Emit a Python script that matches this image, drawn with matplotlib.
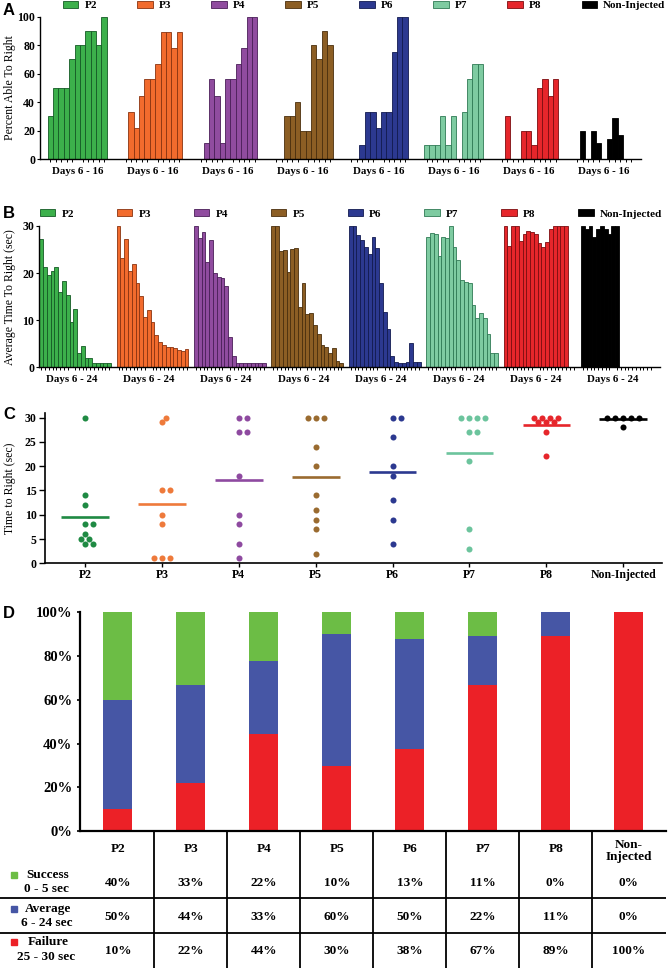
import matplotlib
matplotlib.use('Agg')
import matplotlib.pyplot as plt
import numpy as np

plt.rcParams['font.family'] = ['Liberation Serif', 'DejaVu Serif']
plt.rcParams['font.weight'] = 'bold'
plt.rcParams['axes.linewidth'] = 1.0

groups = ['P2', 'P3', 'P4', 'P5', 'P6', 'P7', 'P8', 'Non-Injected']
bar_colors = ['#3cb04b', '#f26b2d', '#904c9f', '#8c5e24', '#2c3990', '#7ecba1', '#e6262b', '#000000']
edge_colors = ['#145a25', '#8a3310', '#4a1f58', '#4a2f0d', '#121a50', '#2f7a55', '#7c0d10', '#000000']
dot_colors = ['#1f8a43', '#ee7a3b', '#8e4aa0', '#9a6b30', '#2c3990', '#6cc49d', '#e6262b', '#000000']

# A: percent able to right, days 6 - 16
pct_able = [
    [30, 50, 50, 50, 70, 80, 80, 90, 90, 80, 100],
    [0, 33, 22, 44, 56, 56, 67, 89, 89, 78, 89],
    [0, 11, 56, 44, 11, 56, 56, 67, 78, 100, 100],
    [0, 0, 30, 30, 40, 20, 20, 80, 70, 90, 80],
    [0, 0, 10, 33, 33, 22, 33, 33, 75, 100, 100],
    [10, 10, 10, 30, 10, 30, 0, 33, 56, 67, 67],
    [0, 30, 0, 0, 20, 20, 10, 50, 56, 44, 56],
    [0, 20, 0, 20, 11, 0, 14, 29, 17, 0, 0],
]
days_a = 'Days 6 - 16'

# B: average time to right (sec), days 6 - 24
avg_time = [
    [27.2, 21.3, 19.5, 20.5, 21.3, 16.0, 18.3, 15.3, 9.6, 12.3, 3.0, 4.5, 2.0, 2.0, 1.0, 1.0, 1.0, 1.0, 1.0],
    [30, 23.2, 27.2, 20.4, 22.0, 18.0, 15.2, 10.7, 12.2, 9.6, 6.8, 5.4, 4.7, 4.3, 4.3, 4.0, 3.7, 3.5, 3.8],
    [30, 27.4, 28.8, 22.3, 27.0, 20.0, 19.2, 19.0, 17.2, 6.4, 2.3, 1, 1, 1, 1, 1, 1, 1, 1],
    [30, 30, 24.6, 24.9, 20.2, 25.1, 25.3, 12.7, 17.8, 11.3, 11.6, 9.0, 7.1, 4.7, 4.3, 3.1, 4.2, 1.4, 1.0],
    [30, 30, 28.1, 27.0, 25.6, 24.1, 27.6, 25.3, 18.0, 11.8, 8.1, 2.3, 1.2, 1.0, 1.0, 1.2, 5.1, 1.1, 1.1],
    [27.7, 28.6, 28.4, 23.6, 27.6, 27.4, 30, 25.6, 22.8, 18.5, 18.2, 17.8, 13.2, 10.4, 11.6, 10.4, 7.0, 3.0, 3.0],
    [30, 25.8, 30, 30, 26.9, 28.2, 28.9, 28.8, 28.2, 26.3, 25.5, 26.5, 29.3, 30, 30, 30, 30, 0, 0],
    [30, 29.3, 30, 27.6, 29.3, 30, 29.3, 28.3, 30, 30, 0, 0, 0, 0, 0, 0, 0, 0, 0],
]
days_b = 'Days 6 - 24'

# C: time to right (sec), one value per animal
time_to_right = [
    [30, 14, 12, 8, 8, 6, 5, 5, 4, 4],
    [30, 29, 15, 15, 10, 8, 1, 1, 1],
    [30, 30, 27, 27, 18, 10, 8, 4, 1],
    [30, 30, 30, 24, 20, 14, 11, 9, 7, 2],
    [30, 30, 26, 20, 18, 13, 9, 4],
    [30, 30, 30, 30, 27, 27, 21, 7, 3],
    [30, 30, 30, 30, 29, 29, 29, 27, 22],
    [30, 30, 30, 30, 30, 28],
]

# D: outcome categories
outcome_names = ['Success', 'Average', 'Failure']
outcome_ranges = ['0 - 5 sec', '6 - 24 sec', '25 - 30 sec']
outcome_colors = ['#6cbd45', '#4656a5', '#ec2127']

W, H = 668, 968
fig = plt.figure(figsize=(W / 100, H / 100), dpi=100)


def add_ax(left, top, right, bottom):
    return fig.add_axes([left / W, 1 - bottom / H, (right - left) / W, (bottom - top) / H])


def day_bars(ax, data, pitch, label_slot, day_label, ylabel, lab_x, leg_anchor, leg_sep):
    n = len(data[0])
    for g, vals in enumerate(data):
        vals = np.array(vals, dtype=float)
        x = g * pitch + np.arange(n)
        keep = vals > 0
        ax.bar(x[keep], vals[keep], width=1.0, color=bar_colors[g],
               edgecolor=edge_colors[g], linewidth=0.6, label=groups[g])
    ax.set_xticks([g * pitch + label_slot for g in range(len(data))])
    ax.set_xticklabels([day_label] * len(data), fontsize=7.8)
    ax.set_xticks(np.concatenate([g * pitch + np.arange(n) for g in range(len(data))]), minor=True)
    ax.tick_params(axis='x', which='major', length=0, pad=5.5)
    ax.tick_params(axis='x', which='minor', length=2.5, width=0.7)
    ax.tick_params(axis='y', length=2.5, width=0.8, pad=1, labelsize=8.5)
    for s in ['top', 'right']:
        ax.spines[s].set_visible(False)
    ax.set_ylabel(ylabel, fontsize=8.5)
    ax.yaxis.set_label_coords(lab_x, 0.5)
    ax.legend(ncol=8, loc='center left', bbox_to_anchor=leg_anchor, frameon=False,
              fontsize=8, borderpad=0, borderaxespad=0, handlelength=1.4,
              handleheight=0.6, handletextpad=0.55, columnspacing=leg_sep)


# Panel A
axA = add_ax(40, 16.7, 641, 159)
day_bars(axA, pct_able, 14, 5, days_a, 'Percent Able To Right', -0.040, (0.038, 1.079), 3.6)
axA.set_xlim(-1.93, 109.87)
axA.set_ylim(0, 100)
axA.set_yticks(np.arange(0, 101, 20))

# Panel B
axB = add_ax(39.3, 226, 660, 367.3)
day_bars(axB, avg_time, 20.5, 8, days_b, 'Average Time To Right (sec)', -0.0375, (0.001, 1.085), 3.85)
axB.set_xlim(-0.5, 163.9)
axB.set_ylim(0, 30)
axB.set_yticks([0, 10, 20, 30])


# Panel C
def swarm(vals, xpx=76.9, ypx=4.867, step=4.0, dmin=6.0):
    placed = []
    offs = np.zeros(len(vals))
    cands = [0.0]
    for j in range(1, 30):
        cands += [j * step, -j * step]
    for i in np.argsort(vals, kind='stable'):
        y = vals[i] * ypx
        for c in cands:
            if all((c - px) ** 2 + (y - py) ** 2 >= dmin ** 2 for px, py in placed):
                break
        placed.append((c, y))
        offs[i] = c / xpx
    return offs


axC = add_ax(45, 412.7, 661.7, 563.3)
for g, vals in enumerate(time_to_right):
    vals = np.array(vals, dtype=float)
    axC.scatter(g + swarm(vals), vals, s=19, color=dot_colors[g], linewidths=0, zorder=3)
    axC.hlines(vals.mean(), g - 0.31, g + 0.31, color=dot_colors[g], lw=1.9, zorder=2)
axC.set_xlim(-0.52, 7.5)
axC.set_ylim(0, 31)
axC.set_yticks(np.arange(0, 31, 5))
axC.set_xticks(range(len(groups)))
axC.set_xticklabels(groups, fontsize=8.5)
axC.tick_params(axis='x', length=3, width=1, pad=1)
axC.tick_params(axis='y', length=4, width=1, pad=2, labelsize=8.5)
for s in ['top', 'right']:
    axC.spines[s].set_visible(False)
axC.spines['left'].set_linewidth(1.2)
axC.spines['bottom'].set_linewidth(1.2)
axC.set_ylabel('Time to Right (sec)', fontsize=8.5)
axC.yaxis.set_label_coords(-0.047, 0.5)

# Panel D
success = np.array([np.mean(np.array(v) <= 5) * 100 for v in time_to_right])
failure = np.array([np.mean(np.array(v) >= 25) * 100 for v in time_to_right])
average = 100 - success - failure
x = np.arange(len(groups))

axD = add_ax(80, 612, 666, 831.3)
axD.bar(x, failure, width=0.4, color=outcome_colors[2])
axD.bar(x, average, width=0.4, bottom=failure, color=outcome_colors[1])
axD.bar(x, success, width=0.4, bottom=failure + average, color=outcome_colors[0])
axD.set_xlim(-0.518, 7.51)
axD.set_ylim(0, 100)
axD.set_yticks(np.arange(0, 101, 20))
axD.set_yticklabels(['%d%%' % t for t in np.arange(0, 101, 20)], fontsize=10.5)
axD.set_xticks([])
axD.tick_params(axis='y', length=2.5, width=1.2, pad=3)
for s in ['top', 'right']:
    axD.spines[s].set_visible(False)
axD.spines['left'].set_linewidth(1.6)
axD.spines['bottom'].set_linewidth(1.6)

# table under panel D
axT = add_ax(0, 831.3, 666, 968)
axT.set_xlim(-1.614, 7.51)
axT.set_ylim(0, 1)
axT.axis('off')
for yl in [0.510, 0.258]:
    axT.axhline(yl, color='black', lw=1.3)
for k in range(len(groups) - 1):
    axT.axvline(k + 0.5, color='black', lw=1.3)
for g, name in enumerate(groups):
    hdr = 'Non-\nInjected' if name == 'Non-Injected' else name
    axT.text(g, 0.855 if '\n' in hdr else 0.868, hdr, ha='center', va='center',
             fontsize=9.5, linespacing=0.95)
row_y = [0.620, 0.375, 0.127]
for r, vals in enumerate([success, average, failure]):
    for g, v in enumerate(vals):
        axT.text(g, row_y[r], '%d%%' % int(np.floor(v + 0.5)), ha='center', va='center', fontsize=9.5)
    axT.plot([-1.416], [row_y[r] + 0.06], marker='s', ms=4.5, color=outcome_colors[r], ls='none')
    axT.text(-0.956, row_y[r] + 0.06, outcome_names[r], ha='center', va='center', fontsize=9.5)
    axT.text(-0.98, row_y[r] - 0.045, outcome_ranges[r], ha='center', va='center', fontsize=9.5)

# panel letters
for letter, ypx in [('A', 15), ('B', 218), ('C', 419), ('D', 618)]:
    fig.text(3 / W, 1 - ypx / H, letter, fontsize=12, fontweight='bold',
             family=['Liberation Sans', 'DejaVu Sans'], va='baseline', ha='left')

fig.savefig('out.png', dpi=100)
